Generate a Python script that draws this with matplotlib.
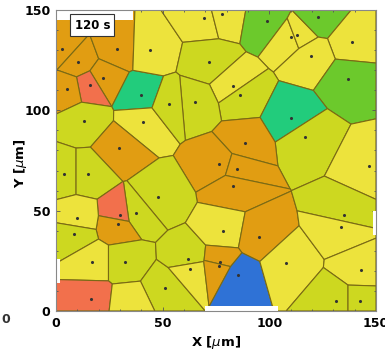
import numpy as np
import matplotlib
matplotlib.use("Agg")
import matplotlib.pyplot as plt
from matplotlib.patches import Polygon, Rectangle
from matplotlib.ticker import MultipleLocator

# grain centres (um) and their class at t = 120 s
cell_x = [2.8, 10.3, 28.6, 22.0, 15.9, 5.2, 39.8, 13.1, 40.8, 29.5,
          44.1, 69.4, 77.8, 98.9, 71.7, 110.2, 113.0, 122.8, 138.8, 119.5,
          136.9, 83.0, 86.3, 65.2, 53.0, 110.2, 116.7, 88.6, 76.4, 84.9,
          146.7, 83.0, 47.8, 3.8, 15.0, 37.5, 30.0, 29.1, 9.8, 8.4,
          16.9, 32.3, 16.4, 51.1, 61.9, 62.8, 78.3, 95.2, 76.9, 76.4,
          85.3, 107.8, 135.0, 133.6, 143.0, 131.3, 142.5, 34.5]
cell_y = [130.5, 124.1, 130.5, 116.1, 112.6, 110.6, 107.6, 94.7, 94.2, 81.2,
          130.0, 146.0, 148.0, 144.5, 124.1, 136.5, 137.5, 146.5, 134.0, 127.1,
          115.6, 112.1, 107.6, 104.1, 103.1, 96.2, 86.7, 83.7, 73.2, 70.8,
          72.2, 62.3, 56.8, 68.3, 68.3, 48.8, 47.8, 43.3, 46.3, 38.4,
          24.4, 24.4, 6.0, 11.5, 25.9, 20.9, 39.9, 36.9, 24.4, 22.4,
          17.9, 23.9, 47.8, 41.9, 20.4, 5.0, 5.0, 4.0]
cell_class = ["O", "O", "O", "O", "R", "O", "T", "YG", "Y", "O",
              "Y", "Y", "Y", "G", "YG", "Y", "Y", "G", "Y", "Y",
              "G", "Y", "YG", "YG", "YG", "T", "YG", "O", "O", "O",
              "Y", "O", "YG", "YG", "YG", "YG", "R", "O", "Y", "YG",
              "Y", "YG", "R", "YG", "YG", "Y", "Y", "O", "O", "O",
              "B", "Y", "YG", "Y", "Y", "YG", "YG", "Y"]

palette = {"B": "#2f72d6", "T": "#22cc7c", "G": "#6cc92c", "YG": "#cdd820",
           "Y": "#ede33c", "O": "#e19d12", "R": "#f2704c"}

# regions outside the tissue (x0, x1, y0, y1)
gaps = [(0, 36, 145, 150), (70, 104, 0, 2.5), (0, 1.8, 14, 26), (148.5, 150, 38, 50)]


def clip_halfplane(poly, n, m):
    out = []
    k = len(poly)
    for i in range(k):
        a, b = poly[i], poly[(i + 1) % k]
        da, db = np.dot(a - m, n), np.dot(b - m, n)
        if da <= 0:
            out.append(a)
        if da * db < 0:
            t = da / (da - db)
            out.append(a + t * (b - a))
    return out


def voronoi_cells(pts, lo, hi):
    box = [np.array(p, float) for p in [(lo, lo), (hi, lo), (hi, hi), (lo, hi)]]
    cells = []
    for i, p in enumerate(pts):
        poly = box
        for j, q in enumerate(pts):
            if i != j:
                poly = clip_halfplane(poly, q - p, (p + q) / 2)
        cells.append(np.array(poly))
    return cells


pts = np.column_stack([cell_x, cell_y])
cells = voronoi_cells(pts, 0, 150)

fig = plt.figure(figsize=(3.85, 3.57), dpi=100)
ax = fig.add_axes([0.1455, 0.129, 0.831, 0.843])

edge = "#7a6a14"
for poly, c in zip(cells, cell_class):
    ax.add_patch(Polygon(poly, closed=True, facecolor=palette[c],
                         edgecolor=edge, linewidth=0.8))
for x0, x1, y0, y1 in gaps:
    ax.add_patch(Rectangle((x0, y0), x1 - x0, y1 - y0, facecolor="white",
                           edgecolor="none", zorder=2))

# the last centre sits on the lower edge and carries no marker
ax.scatter(cell_x[:-1], cell_y[:-1], s=1.5, color="#333333", zorder=3)

ax.text(17, 142.5, "120 s", ha="center", va="center", fontsize=8.5,
        fontweight="bold", zorder=4,
        bbox=dict(boxstyle="square,pad=0.35", facecolor="white",
                  edgecolor="#333333", linewidth=0.8))

ax.set_xlim(0, 150)
ax.set_ylim(0, 150)
ax.xaxis.set_major_locator(MultipleLocator(50))
ax.yaxis.set_major_locator(MultipleLocator(50))
ax.xaxis.set_minor_locator(MultipleLocator(10))
ax.yaxis.set_minor_locator(MultipleLocator(10))
ax.tick_params(which="both", direction="in", top=True, right=True,
               color="#555555", width=0.6)
ax.tick_params(which="major", length=3, labelsize=9, pad=4)
ax.tick_params(which="minor", length=1.5)
for lab in ax.get_xticklabels() + ax.get_yticklabels():
    lab.set_fontweight("bold")
for s in ax.spines.values():
    s.set_color("#888888")
    s.set_linewidth(0.8)

ax.set_xlabel(r"X [$\mu$m]", fontsize=9.5, fontweight="bold", labelpad=3)
ax.set_ylabel(r"Y [$\mu$m]", fontsize=9.5, fontweight="bold")
ax.yaxis.set_label_coords(-0.085, 0.49)

# tick label of the neighbouring panel
fig.text(0.004, 0.095, "0", fontsize=9, fontweight="bold", color="#333333")

fig.savefig("out.png", dpi=100)
